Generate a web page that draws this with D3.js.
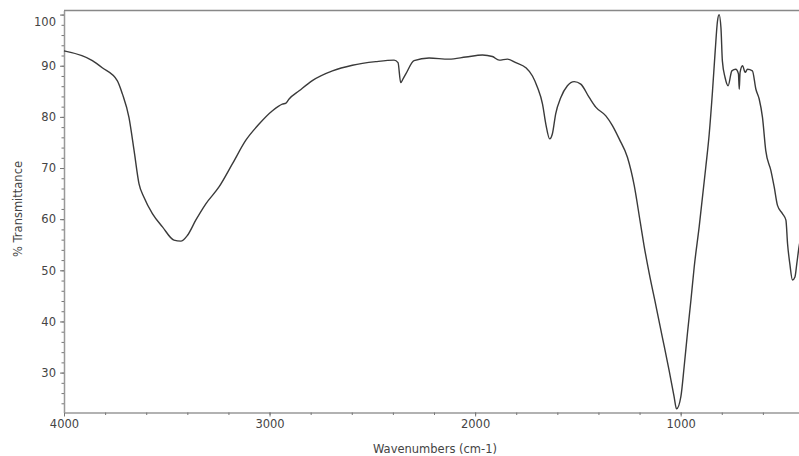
<!DOCTYPE html>
<html lang="en">

<head>
  <script src="https://d3js.org/d3.v7.min.js"></script>
  <meta charset="UTF-8">
  <title>FTIR spectrum</title>
  <style>
    body {
      margin: 0;
      background: #fff;
    }

    text {
      font-family: "DejaVu Sans", sans-serif;
      font-size: 11.5px;
      fill: #444;
    }

    .axis .domain {
      stroke: #999;
      stroke-width: 1.5;
    }

    .axis line {
      stroke: #777;
    }
  </style>
</head>

<body>
  <svg id="spectrum" height="456" width="799"></svg>
  <script>
    // spectrum: wavenumber (cm-1) and % transmittance
    const wavenumbers = [
      4000, 3862, 3814, 3741, 3716, 3684, 3659, 3635, 3611, 3570,
      3521, 3465, 3432, 3400, 3359, 3310, 3246, 3181, 3116, 3051,
      2986, 2938, 2920, 2905, 2856, 2792, 2694, 2597, 2483, 2394,
      2375, 2362, 2350, 2337, 2297, 2224, 2127, 2045, 1964, 1916,
      1883, 1843, 1802, 1753, 1721, 1697, 1672, 1656, 1637, 1624,
      1608, 1583, 1551, 1518, 1486, 1445, 1413, 1364, 1332, 1299,
      1259, 1226, 1197, 1178, 1153, 1121, 1089, 1056, 1032, 1020,
      999, 983, 967, 950, 934, 910, 878, 861, 845, 832,
      821, 813, 804, 797, 784, 769, 751, 732, 719, 715,
      711, 699, 686, 675, 651, 634, 618, 602, 586, 561,
      545, 529, 505, 488, 480, 469, 456, 444, 435, 423,
      400
    ];
    const transmittance = [
      92.9, 91.0, 89.6, 87.1, 84.5, 79.9, 73.4, 66.9, 64.3, 61.1,
      58.5, 55.9, 55.7, 56.8, 59.8, 63.0, 66.3, 70.8, 75.4, 78.6,
      81.2, 82.5, 82.7, 83.5, 85.1, 87.1, 89.0, 90.1, 90.8, 91.1,
      90.6, 86.7, 87.5, 88.4, 91.0, 91.5, 91.3, 91.7, 92.1, 91.8,
      91.1, 91.3, 90.6, 89.6, 88.0, 85.8, 82.5, 78.6, 75.7, 76.7,
      80.6, 83.8, 86.1, 86.9, 86.4, 83.8, 81.9, 80.2, 78.3, 75.7,
      72.1, 66.6, 59.5, 54.8, 49.4, 43.2, 36.9, 30.4, 25.3, 22.9,
      25.3, 31.2, 37.7, 44.2, 50.7, 58.5, 70.1, 76.7, 85.1, 92.9,
      98.7, 100.0, 97.4, 90.9, 87.7, 86.1, 89.0, 89.3, 88.4, 85.4,
      88.7, 90.0, 88.7, 89.3, 89.0, 85.4, 83.5, 79.9, 73.4, 69.5,
      66.3, 62.7, 61.1, 59.8, 55.2, 51.3, 48.1, 48.7, 51.3, 54.9,
      57.5
    ];

    // ticks
    const xMajorTicks = [4000, 3000, 2000, 1000];
    const xMinorTicks = d3.range(400, 4001, 200);
    const yMajorTicks = [30, 40, 50, 60, 70, 80, 90, 100];
    const yMinorTicks = d3.range(24, 101, 2);

    const xTitle = "Wavenumbers (cm-1)";
    const yTitle = "% Transmittance";

    const svg = d3.select("#spectrum");
    const width = +svg.attr("width");

    const xScale = d3.scaleLinear().domain([4000, 400]).range([64, 804]);
    const yScale = d3.scaleLinear().domain([22.2, 100.8]).range([412.5, 10.5]);

    const annotations = svg.append("g").attr("id", "annotations");

    // top frame line
    annotations.append("line")
      .attr("x1", 64).attr("x2", width)
      .attr("y1", 10.5).attr("y2", 10.5)
      .attr("stroke", "#888")
      .attr("stroke-width", 1.5);

    // X axis
    annotations.append("g")
      .attr("class", "x axis")
      .attr("transform", `translate(0,${yScale.range()[0]})`)
      .call(d3.axisBottom(xScale).tickValues(xMinorTicks).tickSize(2.5).tickSizeOuter(0).tickFormat(""));
    annotations.append("g")
      .attr("class", "x axis major")
      .attr("transform", `translate(0,${yScale.range()[0]})`)
      .call(d3.axisBottom(xScale).tickValues(xMajorTicks).tickSize(4).tickPadding(3).tickSizeOuter(0).tickFormat(d3.format("d")))
      .call(g => g.select(".domain").remove());

    // Y axis
    annotations.append("g")
      .attr("class", "y axis")
      .attr("transform", `translate(${xScale.range()[0]},0)`)
      .call(d3.axisLeft(yScale).tickValues(yMinorTicks).tickSize(2.5).tickSizeOuter(0).tickFormat(""));
    annotations.append("g")
      .attr("class", "y axis major")
      .attr("transform", `translate(${xScale.range()[0]},0)`)
      .call(d3.axisLeft(yScale).tickValues(yMajorTicks).tickSize(4).tickPadding(4).tickSizeOuter(0).tickFormat(d3.format("d")))
      .call(g => g.select(".domain").remove())
      .call(g => g.selectAll(".tick text").filter(d => d === 100).attr("dy", "0.95em"));

    // axis titles
    annotations.append("text")
      .attr("x", 435)
      .attr("y", 453)
      .attr("text-anchor", "middle")
      .text(xTitle);
    annotations.append("text")
      .attr("transform", "translate(22,209) rotate(-90)")
      .attr("text-anchor", "middle")
      .text(yTitle);

    // spectrum line
    const points = wavenumbers.map((w, i) => ({ w: w, t: transmittance[i] }));
    const lineGen = d3.line()
      .x(d => xScale(d.w))
      .y(d => yScale(d.t))
      .curve(d3.curveMonotoneX);

    svg.append("path")
      .datum(points)
      .attr("fill", "none")
      .attr("stroke", "#3a3a3a")
      .attr("stroke-width", 1.4)
      .attr("d", lineGen);
  </script>
</body>

</html>
